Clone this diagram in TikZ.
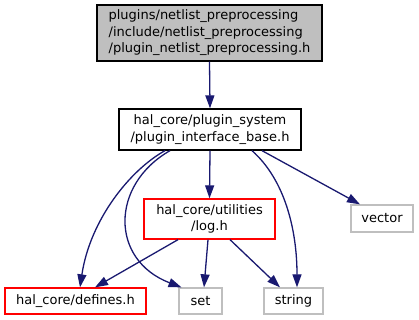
\documentclass[tikz,border=0pt]{standalone}
\usepackage{fontspec}
\setmainfont{DejaVu Sans}
\usetikzlibrary{arrows.meta,positioning,calc}
\definecolor{edgeblue}{HTML}{191970}
\definecolor{boxgray}{HTML}{BFBFBF}
\tikzset{every picture/.style={line width=1.3pt}}

\begin{document}
\begin{tikzpicture}[x=1pt,y=1pt,
    filebox/.style={draw,rectangle,inner sep=0pt,font=\fontsize{13}{16.5}\selectfont,align=center},
    curfile/.style={filebox,draw=black,fill=boxgray},
    srcfile/.style={filebox,draw=black},
    redbox/.style={filebox,draw=red},
    sysbox/.style={filebox,draw=boxgray},
    incl/.style={edgeblue,-{Triangle[length=13pt,width=9pt]}}]
    % Canvas
    \useasboundingbox (0,0) rectangle (419,320);

    % Files
    \node[curfile,align=left,minimum width=225pt,minimum height=56pt] (plugin) at (209.5,287)
        {plugins/netlist\_preprocessing\\/include/netlist\_preprocessing\\/plugin\_netlist\_preprocessing.h};
    \node[srcfile,minimum width=182pt,minimum height=41pt] (base) at (210,190.5)
        {hal\_core/plugin\_system\\/plugin\_interface\_base.h};
    \node[redbox,minimum width=131pt,minimum height=40pt] (log) at (209.5,101)
        {hal\_core/utilities\\/log.h};
    \node[sysbox,minimum width=62pt,minimum height=27pt] (vector) at (382,101.5) {vector};
    \node[redbox,minimum width=141pt,minimum height=26pt] (defines) at (75.5,19) {hal\_core/defines.h};
    \node[sysbox,minimum width=43pt,minimum height=26pt] (set) at (200.5,19) {set};
    \node[sysbox,minimum width=59pt,minimum height=26pt] (string) at (293.5,19) {string};

    % Includes of the plugin header
    \draw[incl] (plugin.south) -- (base.north);

    % Includes of plugin_interface_base.h
    \draw[incl] ([xshift=-45pt]base.south) .. controls (130,150) and (90,100) .. ([xshift=4.5pt]defines.north);
    \draw[incl] ([xshift=-40pt]base.south) .. controls (110,135) and (110,60) .. ([xshift=-19pt]set.north);
    \draw[incl] (base.south) -- (log.north);
    \draw[incl] ([xshift=42pt]base.south) .. controls (285,140) and (297,90) .. ([xshift=3.5pt]string.north);
    \draw[incl] ([xshift=52pt]base.south) -- ([xshift=-22pt]vector.north);

    % Includes of log.h
    \draw[incl] ([xshift=-31.5pt]log.south) -- ([xshift=19.5pt]defines.north);
    \draw[incl] ([xshift=-1.5pt]log.south) -- ([xshift=3.5pt]set.north);
    \draw[incl] ([xshift=20.5pt]log.south) -- ([xshift=-13.5pt]string.north);
\end{tikzpicture}
\end{document}
